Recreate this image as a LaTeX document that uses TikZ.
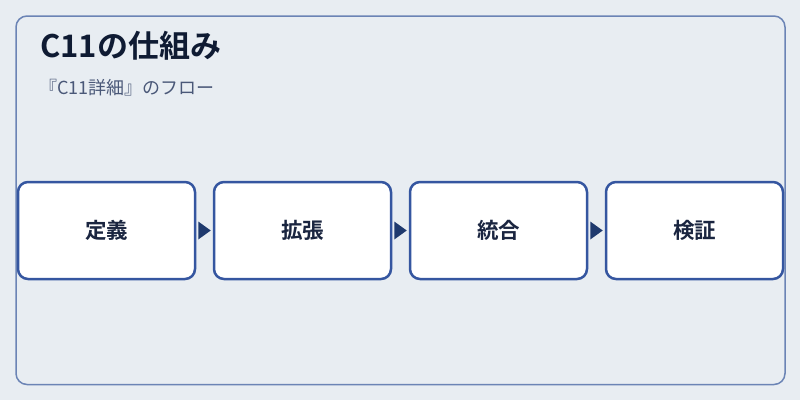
\documentclass[tikz,border=0pt]{standalone}
\usepackage{fontspec}
\setmainfont{Noto Sans CJK JP}[BoldFont={Noto Sans CJK JP Bold}]
\usetikzlibrary{positioning,calc}
\definecolor{bgc}{HTML}{E8EDF2}
\definecolor{framec}{HTML}{6B84B5}
\definecolor{boxc}{HTML}{3556A0}
\definecolor{arrc}{HTML}{1F3A6E}
\definecolor{titlec}{HTML}{0F1B33}
\definecolor{subc}{HTML}{4A5878}
\definecolor{textc}{HTML}{1A2540}
\tikzset{
  stepbox/.style={draw=boxc, line width=2.5pt, fill=white, rounded corners=10pt,
    minimum width=177pt, minimum height=97pt, inner sep=0pt,
    font=\fontsize{21.5pt}{24pt}\selectfont\bfseries, text=textc},
  flowarrow/.style={fill=arrc, draw=none}
}
\begin{document}
\begin{tikzpicture}[x=1pt,y=-1pt]
\useasboundingbox (0,0) rectangle (800,400);
\fill[bgc] (0,0) rectangle (800,400);
\draw[framec, line width=1.5pt, rounded corners=11pt] (16,16) rectangle (785,384.5);
\node[anchor=base west, inner sep=0pt, text=titlec, font=\fontsize{31pt}{34pt}\selectfont\bfseries] (title) at (40,57.5) {C11の仕組み};
\node[anchor=base west, inner sep=0pt, text=subc, font=\fontsize{18pt}{20pt}\selectfont] (sub) at (39,94) {『C11詳細』のフロー};
\node[stepbox] (s1) at (106.5,230.5) {定義};
\node[stepbox] (s2) at (302.5,230.5) {拡張};
\node[stepbox] (s3) at (498.5,230.5) {統合};
\node[stepbox] (s4) at (694.5,230.5) {検証};
\foreach \a/\b in {s1/s2,s2/s3,s3/s4}{
  \fill[flowarrow] ($(\a.east)+(2,-9)$) -- ($(\a.east)+(14.5,0)$) -- ($(\a.east)+(2,9)$) -- cycle;
}
\end{tikzpicture}
\end{document}
